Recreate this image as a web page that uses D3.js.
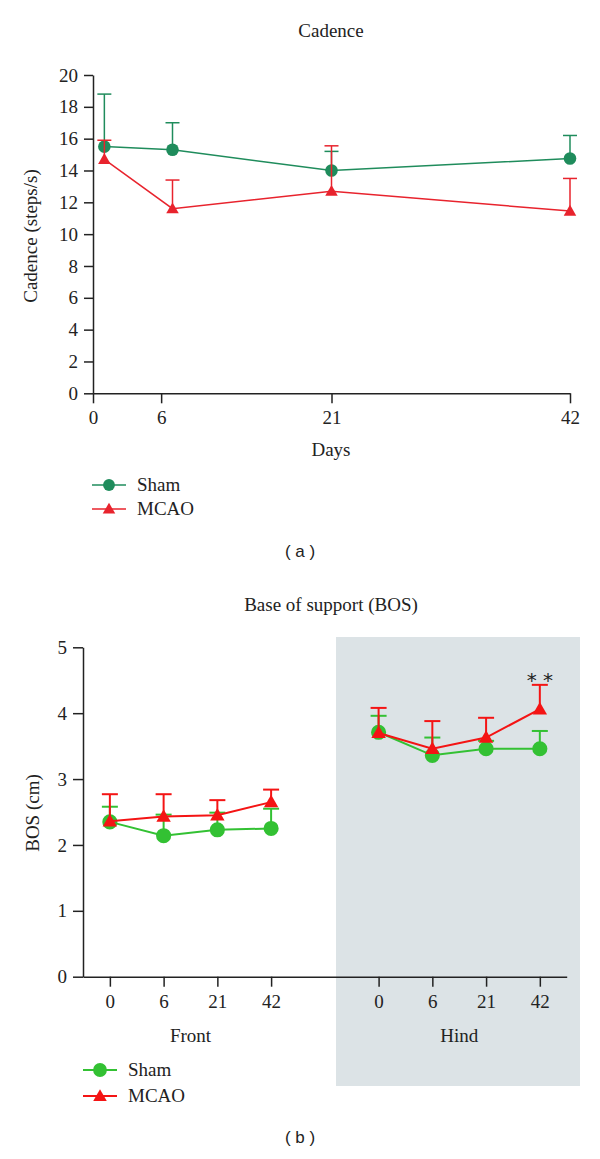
<!DOCTYPE html>
<html><head><meta charset="utf-8">
<script src="https://cdn.jsdelivr.net/npm/d3@7"></script>
<style>
body{margin:0;background:#fff;}
svg text{fill:#222;}
</style></head><body>
<svg id="c" width="600" height="1159"></svg>
<script>
// ---- Panel (a): Cadence ----
const cadenceDays = [1, 7, 21, 42];
const cadenceTicks = [0, 6, 21, 42];
const shamCadence = [15.5, 15.3, 14.0, 14.75];
const shamCadenceErr = [3.3, 1.7, 1.2, 1.45];
const mcaoCadence = [14.7, 11.6, 12.7, 11.45];
const mcaoCadenceErr = [1.2, 1.8, 2.85, 2.05];
const cadenceYTicks = [0, 2, 4, 6, 8, 10, 12, 14, 16, 18, 20];

// ---- Panel (b): BOS ----
const bosTimepoints = ["0", "6", "21", "42"];
const bosGroups = ["Front", "Hind"];
const shamFront = [2.35, 2.14, 2.23, 2.25];
const shamFrontErr = [0.23, 0.32, 0.26, 0.30];
const mcaoFront = [2.36, 2.43, 2.45, 2.65];
const mcaoFrontErr = [0.41, 0.34, 0.23, 0.19];
const shamHind = [3.71, 3.36, 3.46, 3.46];
const shamHindErr = [0.25, 0.27, 0.12, 0.27];
const mcaoHind = [3.70, 3.46, 3.63, 4.06];
const mcaoHindErr = [0.38, 0.42, 0.30, 0.37];
const bosYTicks = [0, 1, 2, 3, 4, 5];

const svg = d3.select("#c");
const FS = 19;
const SERIF = "Liberation Serif, Times New Roman, serif";
const SANS = "Liberation Sans, Arial, sans-serif";

function triangle(size){ return d3.symbol(d3.symbolTriangle, size)(); }
function circle(size){ return d3.symbol(d3.symbolCircle, size)(); }

function txt(g, x, y, s, anchor){
  return g.append("text").attr("x",x).attr("y",y).attr("text-anchor",anchor||"start")
    .attr("font-size",FS).attr("font-family",SERIF).attr("fill","#222").text(s);
}

function styleAxis(g){
  g.attr("font-family",SERIF).attr("font-size",FS);
  g.selectAll("path.domain").attr("stroke","#222").attr("stroke-width",1.5);
  g.selectAll(".tick line").attr("stroke","#222").attr("stroke-width",1.5);
  g.selectAll(".tick text").attr("fill","#222");
}

function drawSeries(g, xs, ys, errs, x, y, color, shape, size, lw, capHalf){
  xs.forEach((xv,i)=>{
    const px = x(xv), py = y(ys[i]), pt = y(ys[i]+errs[i]);
    g.append("line").attr("x1",px).attr("x2",px).attr("y1",py).attr("y2",pt)
      .attr("stroke",color).attr("stroke-width",lw);
    g.append("line").attr("x1",px-capHalf).attr("x2",px+capHalf).attr("y1",pt).attr("y2",pt)
      .attr("stroke",color).attr("stroke-width",lw);
  });
  const line = d3.line().x(d=>x(d[0])).y(d=>y(d[1]));
  g.append("path").datum(xs.map((xv,i)=>[xv,ys[i]])).attr("d",line)
    .attr("fill","none").attr("stroke",color).attr("stroke-width",lw);
  xs.forEach((xv,i)=>{
    g.append("path").attr("d", shape==="tri"?triangle(size):circle(size))
      .attr("transform",`translate(${x(xv)},${y(ys[i]) + (shape==="tri"?1:0)})`)
      .attr("fill",color);
  });
}

// ===== Panel A =====
{
  const gA = svg.append("g");
  const x = d3.scaleLinear().domain([0,42]).range([93,570]);
  const y = d3.scaleLinear().domain([0,20]).range([393.3,75]);
  const green = "#1f8c5c", red = "#e8232d";

  txt(gA, 331, 37, "Cadence", "middle");

  const ya = gA.append("g").attr("transform","translate(93,0)")
    .call(d3.axisLeft(y).tickValues(cadenceYTicks).tickFormat(d3.format("d")).tickSize(9).tickSizeOuter(0).tickPadding(6));
  styleAxis(ya);
  const xa = gA.append("g").attr("transform","translate(0,393.3)")
    .call(d3.axisBottom(x).tickValues(cadenceTicks).tickFormat(d3.format("d")).tickSize(10).tickSizeOuter(0).tickPadding(7));
  styleAxis(xa);

  gA.append("text").attr("transform","translate(37,236) rotate(-90)").attr("text-anchor","middle")
    .attr("font-size",FS).attr("font-family",SERIF).attr("fill","#222").text("Cadence (steps/s)");
  txt(gA, 331, 456, "Days", "middle");

  drawSeries(gA, cadenceDays, shamCadence, shamCadenceErr, x, y, green, "circ", 125, 1.5, 7);
  drawSeries(gA, cadenceDays, mcaoCadence, mcaoCadenceErr, x, y, red, "tri", 68, 1.5, 7);

  const lg = [["Sham",green,"circ",485],["MCAO",red,"tri",509]];
  lg.forEach(([t,c,s,yy])=>{
    gA.append("line").attr("x1",92).attr("x2",126).attr("y1",yy).attr("y2",yy).attr("stroke",c).attr("stroke-width",1.5);
    gA.append("path").attr("d", s==="tri"?triangle(68):circle(110)).attr("transform",`translate(109,${yy+(s==="tri"?1:0)})`).attr("fill",c);
    txt(gA, 137, yy+6, t);
  });
  gA.append("text").attr("x",300).attr("y",557).attr("text-anchor","middle")
    .attr("font-size",17).attr("font-family",SANS).attr("fill","#222").text("( a )");
}

// ===== Panel B =====
{
  const gB = svg.append("g");
  const x = d3.scaleLinear().domain([-0.5,8.5]).range([83,566.7]);
  const y = d3.scaleLinear().domain([0,5]).range([976.7,647.3]);
  const green = "#33c133", red = "#f41414";
  const frontIdx = [0,1,2,3], hindIdx = [5,6,7,8];

  gB.append("rect").attr("x",336).attr("y",637).attr("width",244).attr("height",449).attr("fill","#dce3e6");

  txt(gB, 331, 611, "Base of support (BOS)", "middle");

  const ya = gB.append("g").attr("transform","translate(83,0)")
    .call(d3.axisLeft(y).tickValues(bosYTicks).tickFormat(d3.format("d")).tickSize(10).tickSizeOuter(0).tickPadding(6));
  styleAxis(ya);
  const allIdx = frontIdx.concat(hindIdx);
  const xa = gB.append("g").attr("transform","translate(0,976.7)")
    .call(d3.axisBottom(x).tickValues(allIdx).tickSize(10).tickSizeOuter(0).tickPadding(8)
      .tickFormat((d)=>bosTimepoints[d<4?d:d-5]));
  styleAxis(xa);

  gB.append("text").attr("transform","translate(39,813) rotate(-90)").attr("text-anchor","middle")
    .attr("font-size",FS).attr("font-family",SERIF).attr("fill","#222").text("BOS (cm)");
  txt(gB, d3.mean(frontIdx,x), 1042, bosGroups[0], "middle");
  txt(gB, d3.mean(hindIdx,x), 1042, bosGroups[1], "middle");

  drawSeries(gB, frontIdx, shamFront, shamFrontErr, x, y, green, "circ", 180, 2, 8);
  drawSeries(gB, hindIdx, shamHind, shamHindErr, x, y, green, "circ", 180, 2, 8);
  drawSeries(gB, frontIdx, mcaoFront, mcaoFrontErr, x, y, red, "tri", 90, 2, 8);
  drawSeries(gB, hindIdx, mcaoHind, mcaoHindErr, x, y, red, "tri", 90, 2, 8);

  gB.append("text").attr("x",x(8)).attr("y",y(mcaoHind[3]+mcaoHindErr[3])+2).attr("text-anchor","middle")
    .attr("font-size",20).attr("font-family","DejaVu Sans, sans-serif").attr("fill","#222").text("* *");

  const lg = [["Sham",green,"circ",1070],["MCAO",red,"tri",1096]];
  lg.forEach(([t,c,s,yy])=>{
    gB.append("line").attr("x1",83).attr("x2",117).attr("y1",yy).attr("y2",yy).attr("stroke",c).attr("stroke-width",2);
    gB.append("path").attr("d", s==="tri"?triangle(80):circle(150)).attr("transform",`translate(100,${yy+(s==="tri"?1:0)})`).attr("fill",c);
    txt(gB, 128, yy+6, t);
  });
  gB.append("text").attr("x",300).attr("y",1143).attr("text-anchor","middle")
    .attr("font-size",17).attr("font-family",SANS).attr("fill","#222").text("( b )");
}
</script></body></html>
